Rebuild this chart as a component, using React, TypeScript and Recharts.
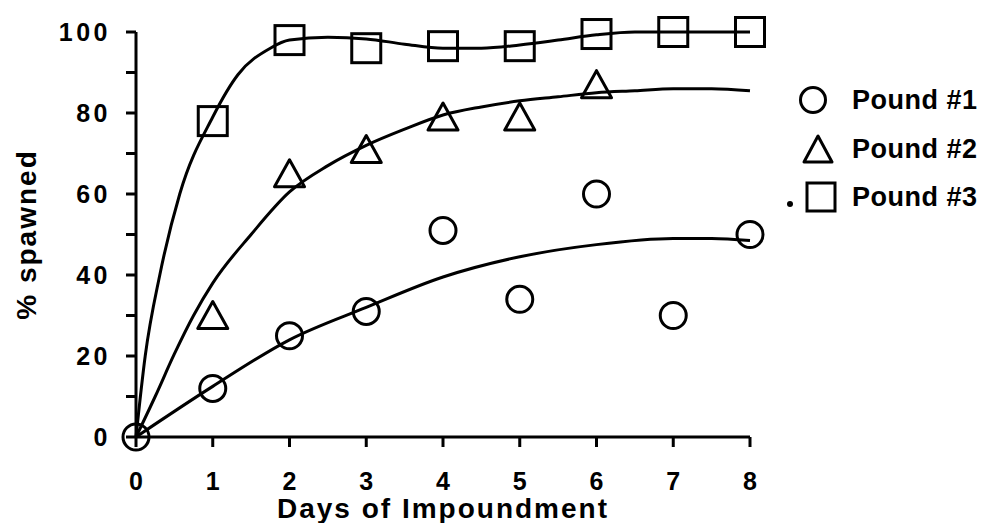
import React from 'react';
import { ComposedChart, Line, Scatter, XAxis, YAxis, Legend } from 'recharts';

// observed points (% spawned by day)
const days = [0, 1, 2, 3, 4, 5, 6, 7, 8];
const pound1 = [0, 12, 25, 31, 51, 34, 60, 30, 50];
const pound2Days = [1, 2, 3, 4, 5, 6];
const pound2 = [30, 65, 71, 79, 79, 87];
const pound3Days = [1, 2, 3, 4, 5, 6, 7, 8];
const pound3 = [78, 98, 96, 96.5, 96.5, 99.5, 100, 100];

// fitted curves
const fit1Days = [0, 1, 2, 3, 4, 5, 6, 7, 7.5, 8];
const fit1 = [0, 12.5, 24, 32, 39.5, 44.5, 47.5, 49, 49, 48.5];
const fit2Days = [0, 0.25, 0.5, 0.75, 1, 1.5, 2, 2.5, 3, 3.5, 4, 4.5, 5, 5.5, 6, 6.5, 7, 7.5, 8];
const fit2 = [0, 10, 20.5, 30, 38, 50, 60.5, 67, 72, 76, 79.5, 81.5, 83, 84, 85, 85.5, 86, 86, 85.5];
const fit3Days = [0, 0.12, 0.31, 0.57, 1, 1.33, 1.75, 2, 2.5, 3, 3.5, 4, 4.5, 5, 5.5, 6, 6.5, 7, 7.5, 8];
const fit3 = [0, 20, 40, 60, 79, 89.5, 96, 98, 98.7, 98.3, 97, 96, 96, 96.8, 98, 99.3, 100, 100, 100, 100];

const xTicks = [0, 1, 2, 3, 4, 5, 6, 7, 8];
const yTicks = [0, 10, 20, 30, 40, 50, 60, 70, 80, 90, 100];
const seriesNames = ['Pound #1', 'Pound #2', 'Pound #3'];

const FONT = '"Liberation Sans", Arial, Helvetica, sans-serif';

const pts = (xs: number[], ys: number[]) => xs.map((x, i) => ({ x, y: ys[i] }));

const CircleMark = (p: any) => (
  <circle cx={p.cx} cy={p.cy} r={13} fill="none" stroke="#000" strokeWidth={3} />
);
const TriangleMark = (p: any) => (
  <polygon
    points={`${p.cx},${p.cy - 14} ${p.cx - 15},${p.cy + 13} ${p.cx + 15},${p.cy + 13}`}
    fill="none"
    stroke="#000"
    strokeWidth={3}
    strokeLinejoin="round"
  />
);
const SquareMark = (p: any) => (
  <rect x={p.cx - 14.5} y={p.cy - 14.5} width={29} height={29} fill="none" stroke="#000" strokeWidth={3} />
);

const legendIcon = (i: number) => {
  if (i === 0) return <circle cx={35} cy={20} r={12.5} fill="none" stroke="#000" strokeWidth={3} />;
  if (i === 1)
    return (
      <polygon points="40,7 26,33 54,33" fill="none" stroke="#000" strokeWidth={3} strokeLinejoin="round" />
    );
  return (
    <g>
      <circle cx={12} cy={27} r={3} fill="#000" />
      <rect x={29} y={6} width={28} height={28} fill="none" stroke="#000" strokeWidth={3} />
    </g>
  );
};

const LegendBox = () => (
  <div style={{ fontFamily: FONT, color: '#000' }}>
    {seriesNames.map((name, i) => (
      <div key={name} style={{ display: 'flex', alignItems: 'center', height: 48.5 }}>
        <svg width={74} height={40}>
          {legendIcon(i)}
        </svg>
        <span style={{ fontSize: 27, fontWeight: 'bold', letterSpacing: 0.5, lineHeight: '40px' }}>{name}</span>
      </div>
    ))}
  </div>
);

export default function App() {
  return (
    <div style={{ width: 979, height: 515, fontFamily: FONT }}>
      <ComposedChart width={979} height={515} margin={{ top: 24, right: 237, bottom: 0, left: 0 }}>
        <XAxis
          type="number"
          dataKey="x"
          domain={[0, 8]}
          ticks={xTicks}
          interval={0}
          height={86}
          axisLine={{ stroke: '#000', strokeWidth: 3 }}
          tickLine={{ stroke: '#000', strokeWidth: 3 }}
          tickSize={10}
          tickMargin={25}
          tick={{ fill: '#000', fontSize: 25, fontWeight: 'bold' }}
          label={{
            value: 'Days of Impoundment',
            position: 'insideBottom',
            offset: 5,
            style: { fontSize: 28, fontWeight: 'bold', letterSpacing: 2, fill: '#000' },
          }}
        />
        <YAxis
          type="number"
          dataKey="y"
          domain={[0, 100]}
          ticks={yTicks}
          interval={0}
          width={128}
          axisLine={{ stroke: '#000', strokeWidth: 3 }}
          tickLine={{ stroke: '#000', strokeWidth: 3 }}
          tickSize={10}
          tickMargin={15}
          tick={{ fill: '#000', fontSize: 25, fontWeight: 'bold', letterSpacing: 3.5 }}
          tickFormatter={(v: number) => (v % 20 === 0 ? String(v) : '')}
          label={{
            value: '% spawned',
            angle: -90,
            position: 'insideLeft',
            offset: 18,
            style: { textAnchor: 'middle', fontSize: 28, fontWeight: 'bold', letterSpacing: 2, fill: '#000' },
          }}
        />
        <Legend
          layout="horizontal"
          verticalAlign="middle"
          align="center"
          content={() => <LegendBox />}
          wrapperStyle={{ left: 770, top: 68, width: 220 }}
        />
        <Line data={pts(fit1Days, fit1)} dataKey="y" type="monotone" stroke="#000" strokeWidth={3} dot={false} isAnimationActive={false} legendType="none" />
        <Line data={pts(fit2Days, fit2)} dataKey="y" type="monotone" stroke="#000" strokeWidth={3} dot={false} isAnimationActive={false} legendType="none" />
        <Line data={pts(fit3Days, fit3)} dataKey="y" type="monotone" stroke="#000" strokeWidth={3} dot={false} isAnimationActive={false} legendType="none" />
        <Scatter name={seriesNames[0]} data={pts(days, pound1)} shape={CircleMark} isAnimationActive={false} />
        <Scatter name={seriesNames[1]} data={pts(pound2Days, pound2)} shape={TriangleMark} isAnimationActive={false} />
        <Scatter name={seriesNames[2]} data={pts(pound3Days, pound3)} shape={SquareMark} isAnimationActive={false} />
      </ComposedChart>
    </div>
  );
}
